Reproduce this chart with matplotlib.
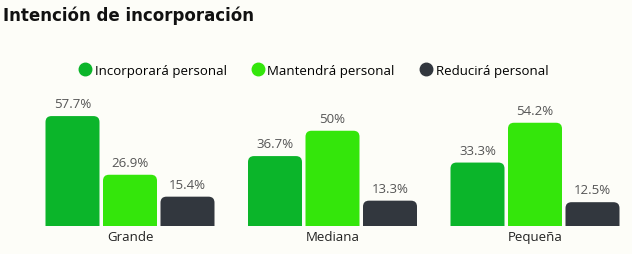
import numpy as np
import matplotlib
matplotlib.use("Agg")
from matplotlib import pyplot as plt
from matplotlib.patches import FancyBboxPatch
from matplotlib.lines import Line2D

# ------------------------------------
# Data

categories = ["Grande", "Mediana", "Pequeña"]
series = ["Incorporará personal", "Mantendrá personal", "Reducirá personal"]
incorpora = [57.7, 36.7, 33.3]
mantiene = [26.9, 50.0, 54.2]
reduce = [15.4, 13.3, 12.5]
labels = [
    ["57.7%", "36.7%", "33.3%"],
    ["26.9%", "50%", "54.2%"],
    ["15.4%", "13.3%", "12.5%"],
]
colors = ["#0bb52a", "#34e60b", "#32373e"]
bg = "#fdfdf8"

plt.rcParams["font.family"] = ["Open Sans", "DejaVu Sans"]

fig = plt.figure(figsize=(6.32, 2.55), dpi=100, facecolor=bg)
ax = fig.add_axes([0, 28 / 255, 1, 0.5])
ax.set_facecolor(bg)

W, H = 632, 255
px_per_pct = 1.905
group_px = 202.5
x0_px = 130
ax.set_xlim(-x0_px / group_px, (W - x0_px) / group_px)
ax_h_px = 0.5 * H
ax.set_ylim(0, ax_h_px / px_per_pct)

bar_w = 54 / group_px
step = 57.5 / group_px
r = 6 / group_px
aspect = (6 / px_per_pct) / r

# ------------------------------------
# Bars with rounded tops

x = np.arange(len(categories))
for i, vals in enumerate([incorpora, mantiene, reduce]):
    for j, v in enumerate(vals):
        cx = x[j] + (i - 1) * step
        p = FancyBboxPatch(
            (cx - bar_w / 2, -5), bar_w, v + 5,
            boxstyle=f"round,pad=0,rounding_size={r}",
            mutation_aspect=aspect,
            fc=colors[i], ec="none",
        )
        ax.add_patch(p)
        ax.text(cx, v + 3.0, labels[i][j], ha="center", va="bottom",
                fontsize=9.5, color="#555555")

ax.set_xticks(x)
ax.set_xticklabels(categories, fontsize=9.5, color="#222222")
ax.tick_params(length=0, pad=3)
ax.set_yticks([])
for s in ax.spines.values():
    s.set_visible(False)

fig.text(3 / W, 1 - 16 / H, "Intención de incorporación", fontsize=12,
         fontweight="bold", va="center", ha="left", color="#111111",
         family="DejaVu Sans")

handles = [Line2D([], [], marker="o", ls="", ms=9, mfc=c, mec=c) for c in colors]
fig.legend(handles, series, loc="center", bbox_to_anchor=(0.495, 1 - 71 / H),
           ncol=3, frameon=False, fontsize=9.5, handletextpad=0.1,
           columnspacing=1.8, handlelength=1.2)

fig.savefig("out.png", dpi=100, facecolor=bg)
